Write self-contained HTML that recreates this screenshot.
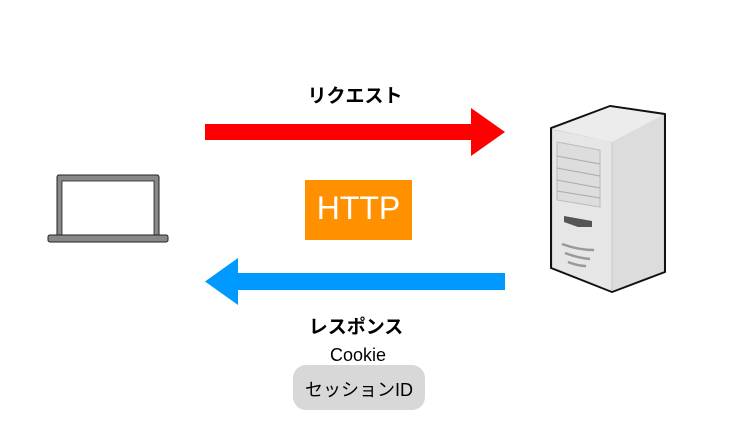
<!DOCTYPE html>
<html><head><meta charset="utf-8"><style>
body{margin:0;width:731px;height:437px;background:#fff;position:relative;overflow:hidden;font-family:"Liberation Sans","Noto Sans CJK JP",sans-serif}
.t{position:absolute;text-align:center;color:#000;white-space:nowrap}
</style></head><body>
<svg width="731" height="437" style="position:absolute;left:0;top:0">
<rect x="205" y="124" width="268" height="16" fill="#ff0000"/>
<polygon points="471,108 505,132 471,156" fill="#ff0000"/>
<rect x="236" y="273" width="269" height="17" fill="#0099ff"/>
<polygon points="238,258 205,281.5 238,305" fill="#0099ff"/>
<rect x="305" y="180" width="107" height="60" fill="#ff9000"/>
<rect x="293" y="365" width="132" height="45" rx="13" fill="#d8d8d8"/>
<rect x="57" y="175" width="102" height="63" rx="2" fill="#888" stroke="#222" stroke-width="1"/>
<rect x="62" y="181" width="92" height="55" fill="#fff" stroke="#222" stroke-width="0.8"/>
<rect x="48" y="235" width="120" height="7" rx="2" fill="#888" stroke="#222" stroke-width="1"/>
<polygon points="551,128 610,106 665,114 665,272 612,292 551,268" fill="#d4d4d4" stroke="#111" stroke-width="2" stroke-linejoin="round"/>
<polygon points="553,129 610,107 663,115 612,142" fill="#ececec"/>
<polygon points="612,142 663,115 663,271 612,291" fill="#dcdcdc"/>
<polygon points="553,130 612,142 612,291 553,267" fill="#e6e6e6"/>
<line x1="612" y1="142" x2="612" y2="291" stroke="#c8c8c8" stroke-width="1"/>
<polygon points="557,142 600,150 600,207 557,200" fill="#ddd" stroke="#bbb" stroke-width="1"/>
<g stroke="#aaa" stroke-width="1">
<line x1="557" y1="156" x2="600" y2="164"/><line x1="557" y1="168" x2="600" y2="176"/>
<line x1="557" y1="180" x2="600" y2="188"/><line x1="557" y1="191" x2="600" y2="198"/></g>
<polygon points="564,216 592,221 592,227 578,227 564,222" fill="#555"/>
<g stroke="#999" stroke-width="2.5" fill="none">
<path d="M562,244 Q578,250 594,250"/><path d="M565,253 Q578,258 590,259"/><path d="M568,262 Q578,266 586,266"/></g>
</svg>
<div class="t" style="left:255px;top:81px;width:200px;font-size:19px;font-weight:bold">リクエスト</div>
<div class="t" style="left:305px;top:190px;width:107px;font-size:32px;color:#fff">HTTP</div>
<div class="t" style="left:256px;top:312px;width:200px;font-size:19px;font-weight:bold">レスポンス</div>
<div class="t" style="left:258px;top:345px;width:200px;font-size:18px">Cookie</div>
<div class="t" style="left:293px;top:376px;width:132px;font-size:18px">セッションID</div>
</body></html>
